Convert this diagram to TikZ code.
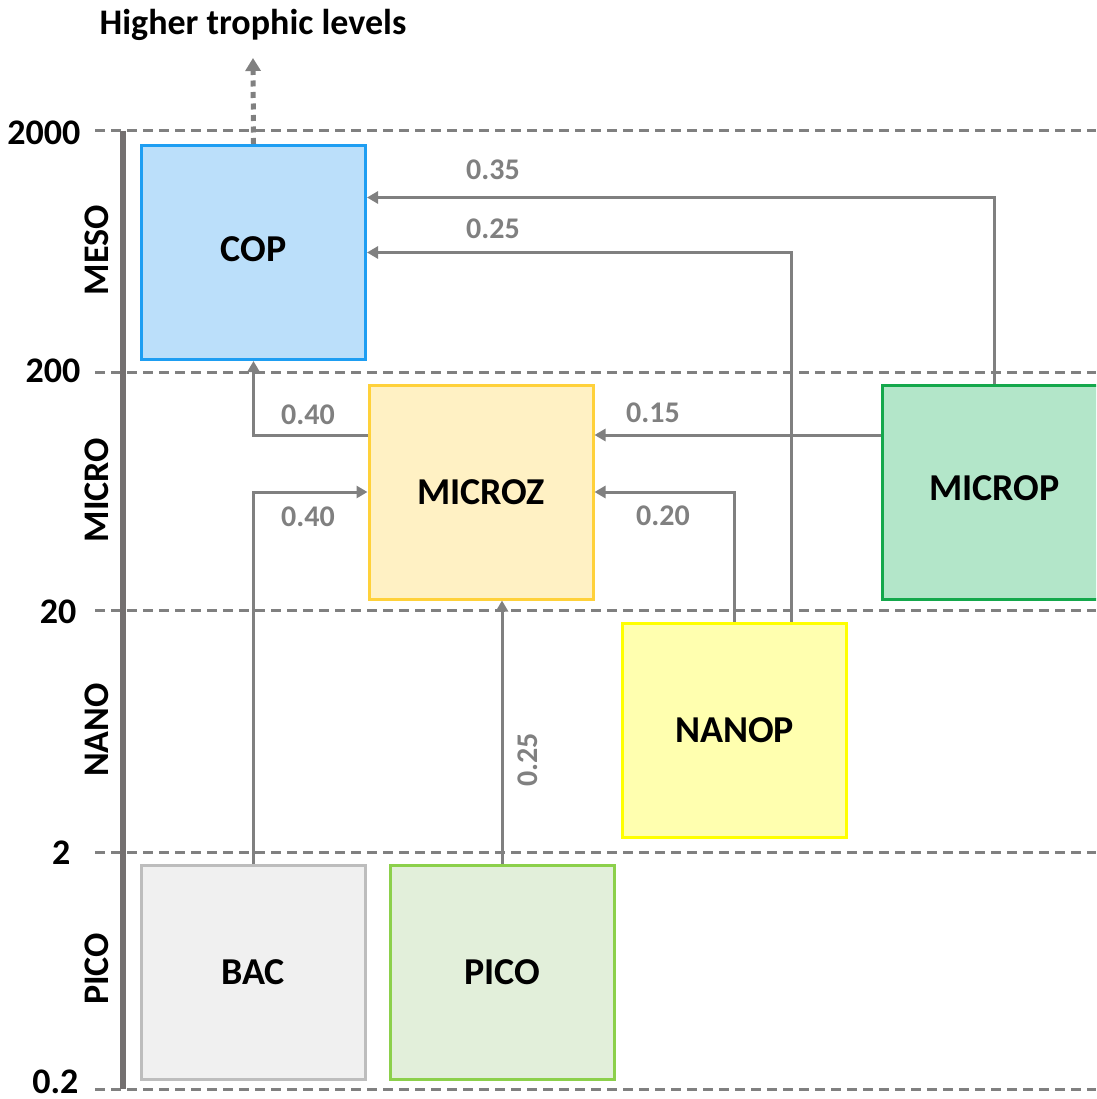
\documentclass[tikz,border=0pt]{standalone}
\usepackage{fontspec}
\setmainfont{Carlito}
\usetikzlibrary{arrows.meta}

\definecolor{flowgray}{HTML}{808080}
\definecolor{axisgray}{HTML}{747070}
\definecolor{copfill}{HTML}{BBDFFA}
\definecolor{copline}{HTML}{1E9EF2}
\definecolor{zoofill}{HTML}{FFF1C4}
\definecolor{zooline}{HTML}{FFD13A}
\definecolor{micfill}{HTML}{B3E6C9}
\definecolor{micline}{HTML}{14A84C}
\definecolor{nanfill}{HTML}{FFFFAF}
\definecolor{nanline}{HTML}{FFFF00}
\definecolor{bacfill}{HTML}{F0F0F0}
\definecolor{bacline}{HTML}{BDBDBD}
\definecolor{picfill}{HTML}{E2EFDA}
\definecolor{picline}{HTML}{8CD04B}

\begin{document}
\begin{tikzpicture}[x=1pt,y=-1pt,
		box/.style={draw, line width=3pt, minimum width=224pt, minimum height=214pt, inner sep=0pt, font=\fontsize{38}{40}\selectfont\bfseries},
		flow/.style={draw=flowgray, line width=3pt, -{Triangle[length=11pt,width=12pt]}},
		upflow/.style={draw=flowgray, line width=5pt, dash pattern=on 6pt off 5.5pt, -{Triangle[length=13pt,width=15pt]}},
		grid/.style={draw=flowgray, line width=3pt, dash pattern=on 10pt off 6pt},
		val/.style={text=flowgray, font=\fontsize{30}{32}\selectfont\bfseries},
		lvl/.style={font=\fontsize{36}{38}\selectfont\bfseries}]

		\clip (0,0) rectangle (1096,1099);

		\def \ax {123};
		\def \ds {57};

		\foreach \y/\ly/\lx/\t [count=\i] in {131/133/84/2000, 372/371/84/200, 610/612/80/20, 852/853/74/2, 1089/1082/82/0.2} {
		    \draw[grid] (95,\y) -- (1096,\y);
		    \node[lvl, anchor=east, inner ysep=1pt] (tick\i) at (\lx,\ly) {\t};
		}

		\foreach \y/\t in {250/MESO, 490/MICRO, 730/NANO, 969/PICO} {
		    \node[lvl, rotate=90] (band\t) at (97,\y) {\t};
		}

		\draw[axisgray, line width=6pt] (\ax,131) -- (\ax,1089);

		\node (top) at (253,25) [lvl] {Higher trophic levels};
		\coordinate (up) at (253,58);

		\node (cop) at (253.5,252.5) [box, fill=copfill, draw=copline] {\raisebox{7pt}{COP}};
		\node (microz) at (481,492) [box, fill=zoofill, draw=zooline] {MICROZ};
		\node (microp) at (994.5,492) [box, fill=micfill, draw=micline] {\raisebox{7pt}{MICROP}};
		\node (nanop) at (734.5,730) [box, fill=nanfill, draw=nanline] {NANOP};
		\node (bac) at (253,972) [box, fill=bacfill, draw=bacline] {BAC};
		\node (pico) at (502,972) [box, fill=picfill, draw=picline] {PICO};

		\draw[upflow] (cop.north) -- (up);
		\draw[flow] (microp.north) |- ([yshift=55pt]cop.east);
		\draw[flow] ([xshift=\ds pt]nanop.north) |- (cop.east);
		\draw[flow] ([yshift=\ds pt]microz.west) -| (cop.south);
		\draw[flow] (bac.north) |- (microz.west);
		\draw[flow] ([yshift=\ds pt]microp.west) -- ([yshift=\ds pt]microz.east);
		\draw[flow] (nanop.north) |- (microz.east);
		\draw[flow] (pico.north) -- (pico.north |- microz.south);

		\node (v1) at (493,170) [val] {0.35};
		\node (v2) at (493,229) [val] {0.25};
		\node (v3) at (308,415) [val] {0.40};
		\node (v4) at (308,517) [val] {0.40};
		\node (v5) at (653,413) [val] {0.15};
		\node (v6) at (663,516) [val] {0.20};
		\node (v7) at (528,760) [val, rotate=90] {0.25};
	\end{tikzpicture}
\end{document}
